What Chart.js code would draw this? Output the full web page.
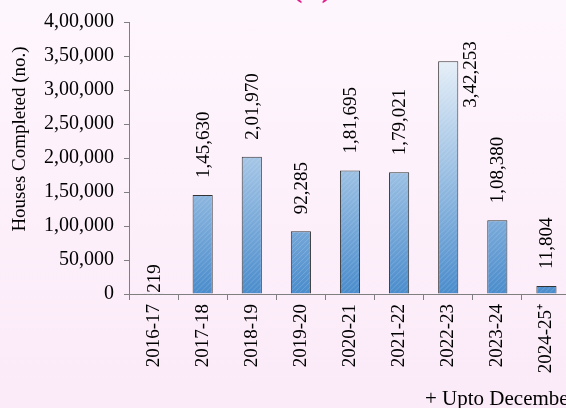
<!DOCTYPE html>
<html>
<head>
<meta charset="utf-8">
<script src="https://cdn.jsdelivr.net/npm/chart.js@4.4.1/dist/chart.umd.min.js"></script>
<style>
  html, body { margin: 0; padding: 0; overflow: hidden; }
  body { width: 566px; height: 408px; background: linear-gradient(to bottom, #fef6fd, #fbeaf8); }
  canvas { display: block; }
</style>
</head>
<body>
<canvas id="housesChart" width="600" height="408"></canvas>
<script>
// data
const years = ['2016-17', '2017-18', '2018-19', '2019-20', '2020-21', '2021-22', '2022-23', '2023-24', '2024-25\u207A'];
const housesCompleted = [219, 145630, 201970, 92285, 181695, 179021, 342253, 108380, 11804];
const yTicks = [0, 50000, 100000, 150000, 200000, 250000, 300000, 350000, 400000];

const FONT = "'Liberation Serif', 'Times New Roman', serif";

// indian style grouping: 3,42,253
function formatIN(n) {
    const s = String(Math.round(n));
    if (s.length <= 3) return s;
    const last3 = s.slice(-3);
    const rest = s.slice(0, -3).replace(/\B(?=(\d{2})+(?!\d))/g, ',');
    return rest + ',' + last3;
}

// bar fill runs from white at the top of the plot to blue at the base
function barFill(context) {
    const chart = context.chart;
    const area = chart.chartArea;
    if (!area) return '#8ab6e0';
    const g = chart.ctx.createLinearGradient(0, area.top, 0, area.bottom);
    g.addColorStop(0, '#ffffff');
    g.addColorStop(1, '#4a8ccc');
    return g;
}

// value labels, rotated; a couple are placed by hand like in the source
const labelPlugin = {
    id: 'valueLabels',
    afterDatasetsDraw(chart) {
        const ctx = chart.ctx;
        const meta = chart.getDatasetMeta(0);
        ctx.save();
        ctx.font = '19px ' + FONT;
        ctx.fillStyle = '#000';
        ctx.textBaseline = 'middle';
        meta.data.forEach((bar, i) => {
            const text = formatIN(housesCompleted[i]);
            let x = bar.x, y = bar.y - 17, align = 'left';
            if (i === 0) y = bar.y - 1;
            if (i === 6) { x = bar.x + bar.width / 2 + 12; y = bar.y - 20; align = 'right'; }
            ctx.save();
            ctx.translate(x, y);
            ctx.rotate(-Math.PI / 2);
            ctx.textAlign = align;
            ctx.fillText(text, 0, 1);
            ctx.restore();
        });
        ctx.restore();
    }
};

// faint diagonal hatch over the bars
const hatchPlugin = {
    id: 'hatch',
    afterDatasetsDraw(chart) {
        const ctx = chart.ctx;
        chart.getDatasetMeta(0).data.forEach(bar => {
            const l = bar.x - bar.width / 2, r = bar.x + bar.width / 2;
            ctx.save();
            ctx.beginPath();
            ctx.rect(l + 1, bar.y + 1, bar.width - 2, bar.base - bar.y - 2);
            ctx.clip();
            ctx.strokeStyle = 'rgba(255,255,255,0.18)';
            ctx.lineWidth = 1;
            for (let k = bar.y - 30; k < bar.base + 30; k += 5) {
                ctx.beginPath();
                ctx.moveTo(l, k + 20);
                ctx.lineTo(r, k);
                ctx.stroke();
            }
            ctx.restore();
        });
    }
};

// axis title, footnote and the clipped panel letter at the top
const textPlugin = {
    id: 'extraText',
    afterDraw(chart) {
        const ctx = chart.ctx;
        ctx.save();
        ctx.fillStyle = '#000';
        ctx.font = '19px ' + FONT;
        ctx.translate(20, 139);
        ctx.rotate(-Math.PI / 2);
        ctx.textAlign = 'center';
        ctx.textBaseline = 'middle';
        ctx.fillText('Houses Completed (no.)', 0, 0);
        ctx.restore();

        ctx.save();
        ctx.font = '21px ' + FONT;
        ctx.fillStyle = '#000';
        ctx.textAlign = 'left';
        ctx.textBaseline = 'alphabetic';
        ctx.fillText('+ Upto December', 425, 405);
        ctx.fillStyle = '#e0238c';
        ctx.font = 'bold 34px ' + FONT;
        ctx.textAlign = 'center';
        ctx.fillText('(b)', 312, -4);
        ctx.restore();
    }
};

new Chart(document.getElementById('housesChart'), {
    type: 'bar',
    data: {
        labels: years,
        datasets: [{
            data: housesCompleted,
            backgroundColor: barFill,
            borderColor: '#333333',
            borderWidth: 1,
            borderSkipped: 'bottom',
            barPercentage: 0.41,
            categoryPercentage: 1
        }]
    },
    options: {
        responsive: false,
        animation: false,
        layout: { padding: { left: 0, top: 21, right: 29, bottom: 0 } },
        plugins: {
            legend: { display: false },
            tooltip: { enabled: false }
        },
        scales: {
            x: {
                grid: { display: true, drawOnChartArea: false, drawTicks: true, tickLength: 6, color: '#7f7f7f' },
                border: { color: '#7f7f7f', width: 1 },
                ticks: {
                    autoSkip: false,
                    minRotation: 90,
                    maxRotation: 90,
                    padding: 4,
                    color: '#000',
                    font: { family: FONT, size: 19 }
                },
                afterFit(scale) { scale.height = 114; }
            },
            y: {
                min: 0,
                max: 400000,
                afterBuildTicks(scale) { scale.ticks = yTicks.map(v => ({ value: v })); },
                grid: { display: true, drawOnChartArea: false, drawTicks: true, tickLength: 5, color: '#7f7f7f' },
                border: { color: '#7f7f7f', width: 1 },
                ticks: {
                    padding: 10,
                    color: '#000',
                    font: { family: FONT, size: 20 },
                    callback: v => formatIN(v)
                },
                afterFit(scale) { scale.width = 129; }
            }
        }
    },
    plugins: [hatchPlugin, labelPlugin, textPlugin]
});
</script>
</body>
</html>
